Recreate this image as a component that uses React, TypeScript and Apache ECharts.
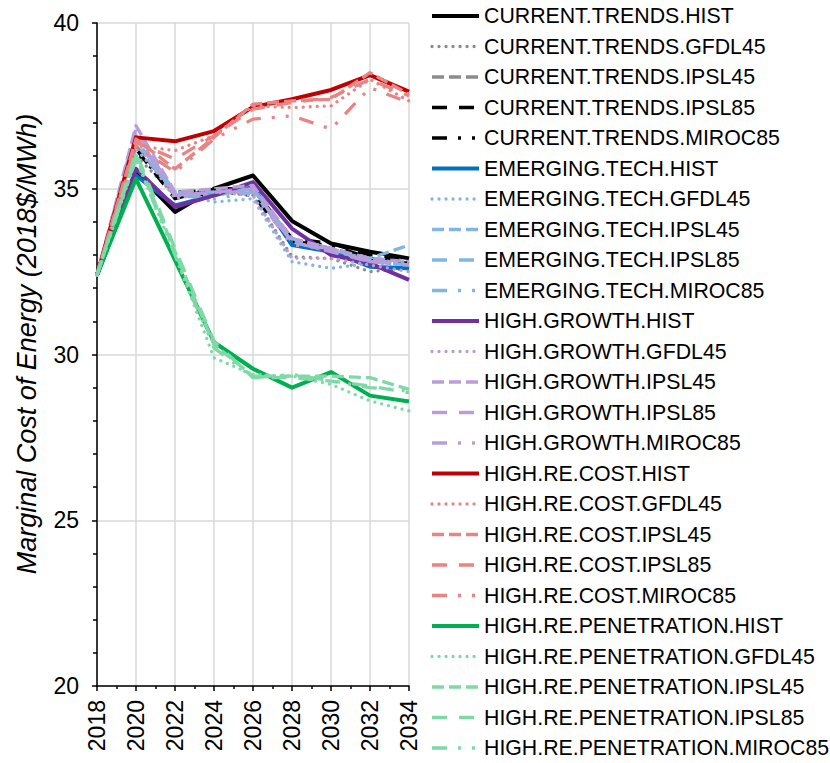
import React, { useEffect, useRef } from "react";
import * as echarts from "echarts";

const years = [2018, 2020, 2022, 2024, 2026, 2028, 2030, 2032, 2034];
const yTicks = [20, 25, 30, 35, 40];
const yTitle = "Marginal Cost of Energy (2018$/MWh)";

// CURRENT.TRENDS
const ctHist = [32.4, 35.5, 34.3, 35.0, 35.4, 34.03, 33.35, 33.1, 32.9];
const ctGfdl45 = [32.4, 36.0, 34.8, 34.9, 34.8, 32.95, 32.9, 32.5, 32.6];
const ctIpsl45 = [32.4, 36.3, 34.8, 35.0, 35.0, 33.4, 33.2, 32.9, 32.8];
const ctIpsl85 = [32.4, 36.2, 34.7, 35.0, 35.0, 33.5, 33.35, 33.0, 32.8];
const ctMiroc85 = [32.4, 36.1, 34.9, 34.95, 34.8, 33.4, 33.3, 32.9, 32.75];
// EMERGING.TECH
const etHist = [32.4, 35.4, 34.5, 34.8, 35.05, 33.3, 33.1, 32.65, 32.6];
const etGfdl45 = [32.4, 36.2, 34.9, 34.6, 34.7, 32.8, 32.6, 32.75, 32.7];
const etIpsl45 = [32.4, 36.5, 34.8, 34.8, 35.0, 33.4, 33.1, 32.9, 33.3];
const etIpsl85 = [32.4, 36.6, 34.9, 34.9, 35.0, 33.5, 33.2, 32.8, 32.7];
const etMiroc85 = [32.4, 36.4, 34.8, 34.7, 34.9, 33.4, 33.2, 32.8, 32.8];
// HIGH.GROWTH
const hgHist = [32.4, 35.6, 34.45, 34.8, 35.2, 33.8, 33.0, 32.75, 32.25];
const hgGfdl45 = [32.4, 36.4, 34.7, 34.9, 34.8, 32.9, 32.9, 32.7, 32.5];
const hgIpsl45 = [32.4, 36.9, 34.9, 35.0, 35.1, 33.5, 33.2, 32.9, 32.8];
const hgIpsl85 = [32.4, 36.8, 34.8, 34.9, 35.0, 33.4, 33.1, 32.8, 32.7];
const hgMiroc85 = [32.4, 36.6, 34.8, 34.9, 34.9, 33.3, 33.2, 32.8, 32.7];
// HIGH.RE.COST
const rcHist = [32.4, 36.55, 36.43, 36.74, 37.47, 37.7, 37.98, 38.43, 37.93];
const rcGfdl45 = [32.4, 36.3, 36.15, 36.6, 37.5, 37.45, 37.5, 38.3, 37.65];
const rcIpsl45 = [32.4, 36.5, 35.6, 36.55, 37.55, 37.65, 37.7, 38.5, 37.85];
const rcIpsl85 = [32.4, 36.4, 35.9, 36.6, 37.4, 37.6, 37.75, 38.3, 37.8];
const rcMiroc85 = [32.4, 36.3, 35.5, 36.5, 37.1, 37.2, 36.8, 38.05, 37.6];
// HIGH.RE.PENETRATION
const rpHist = [32.4, 35.3, 32.85, 30.37, 29.57, 29.0, 29.47, 28.76, 28.58];
const rpGfdl45 = [32.4, 35.9, 33.0, 29.9, 29.4, 29.35, 29.1, 28.6, 28.3];
const rpIpsl45 = [32.4, 36.0, 33.1, 30.3, 29.35, 29.35, 29.35, 29.3, 28.95];
const rpIpsl85 = [32.4, 36.1, 33.2, 30.4, 29.3, 29.3, 29.2, 29.05, 28.85];
const rpMiroc85 = [32.4, 35.9, 33.0, 30.2, 29.3, 29.4, 29.2, 29.0, 28.9];

const groups = [
  { name: "CURRENT.TRENDS", dark: "#000000", light: "#8c8c8c", lightDash: "#000000", vals: [ctHist, ctGfdl45, ctIpsl45, ctIpsl85, ctMiroc85] },
  { name: "EMERGING.TECH", dark: "#0070C0", light: "#7fb6e2", lightDash: "#7fb6e2", vals: [etHist, etGfdl45, etIpsl45, etIpsl85, etMiroc85] },
  { name: "HIGH.GROWTH", dark: "#7030A0", light: "#b79edb", lightDash: "#b79edb", vals: [hgHist, hgGfdl45, hgIpsl45, hgIpsl85, hgMiroc85] },
  { name: "HIGH.RE.COST", dark: "#C00000", light: "#e88484", lightDash: "#e88484", vals: [rcHist, rcGfdl45, rcIpsl45, rcIpsl85, rcMiroc85] },
  { name: "HIGH.RE.PENETRATION", dark: "#00B050", light: "#7fd9a6", lightDash: "#7fd9a6", vals: [rpHist, rpGfdl45, rpIpsl45, rpIpsl85, rpMiroc85] },
];
const scenarios = ["HIST", "GFDL45", "IPSL45", "IPSL85", "MIROC85"];

const FONT = "'Liberation Sans', Arial, sans-serif";

export default function App() {
  const ref = useRef<HTMLDivElement>(null);
  useEffect(() => {
    if (!ref.current) return;
    const chart = echarts.init(ref.current, null, { renderer: "svg" });
    const series: any[] = [];
    groups.forEach((g) => {
      scenarios.forEach((s, si) => {
        let color = g.light;
        let type: any = "solid";
        let cap: any = "butt";
        let width = 3.3;
        if (si === 0) {
          color = g.dark;
          width = 4;
        } else if (si === 1) {
          type = [0.01, 7];
          cap = "round";
        } else if (si === 2) {
          type = [12, 5];
          if (g.name === "CURRENT.TRENDS") color = "#8c8c8c";
        } else if (si === 3) {
          type = [15, 12];
          color = g.lightDash;
        } else {
          type = [15, 11, 3, 11, 3, 11];
          color = g.lightDash;
        }
        series.push({
          name: g.name + "." + s,
          type: "line",
          data: years.map((y, i) => [y, g.vals[si][i]]),
          symbol: "none",
          showSymbol: false,
          color,
          lineStyle: { color, width, type, cap, join: "round" },
          emphasis: { disabled: true },
        });
      });
    });
    chart.setOption({
      animation: false,
      backgroundColor: "#ffffff",
      grid: { left: 97, right: 421, top: 23, bottom: 77, containLabel: false },
      legend: {
        orient: "vertical",
        left: 430,
        top: 5,
        padding: 0,
        itemWidth: 47,
        itemHeight: 14,
        itemGap: 8.5,
        itemStyle: { opacity: 0 },
        lineStyle: { width: "inherit" },
        textStyle: { fontFamily: FONT, fontSize: 21.3, color: "#000", lineHeight: 22 },
        data: series.map((s) => s.name),
      },
      graphic: [
        {
          type: "text",
          x: 27,
          y: 344,
          rotation: Math.PI / 2,
          style: {
            text: yTitle,
            font: "italic 27px 'Liberation Sans', Arial, sans-serif",
            fill: "#000",
            textAlign: "center",
            textVerticalAlign: "middle",
          },
        },
      ],
      xAxis: {
        type: "value",
        min: 2018,
        max: 2034,
        interval: 2,
        axisLine: { show: true, lineStyle: { color: "#000", width: 1.5 } },
        axisTick: { show: true, length: 5, lineStyle: { color: "#000", width: 1.5 } },
        minorTick: { show: true, splitNumber: 2, length: 3, lineStyle: { color: "#000", width: 1.5 } },
        splitLine: { show: true, lineStyle: { color: "#d9d9d9", width: 1.5 } },
        axisLabel: {
          rotate: 90,
          margin: 14,
          fontFamily: FONT,
          fontSize: 23,
          color: "#000",
          formatter: (v: number) => String(v),
          hideOverlap: false,
        },
      },
      yAxis: {
        type: "value",
        min: yTicks[0],
        max: yTicks[yTicks.length - 1],
        interval: 5,
        axisLine: { show: true, lineStyle: { color: "#000", width: 1.5 } },
        axisTick: { show: true, length: 5, lineStyle: { color: "#000", width: 1.5 } },
        minorTick: { show: true, splitNumber: 5, length: 4, lineStyle: { color: "#000", width: 1.5 } },
        splitLine: { show: true, lineStyle: { color: "#d9d9d9", width: 1.5 } },
        axisLabel: { margin: 18, fontFamily: FONT, fontSize: 23, color: "#000" },
      },
      series,
    });
    return () => chart.dispose();
  }, []);
  return <div ref={ref} style={{ width: 830, height: 763, position: "absolute", left: 0, top: 0 }} />;
}
